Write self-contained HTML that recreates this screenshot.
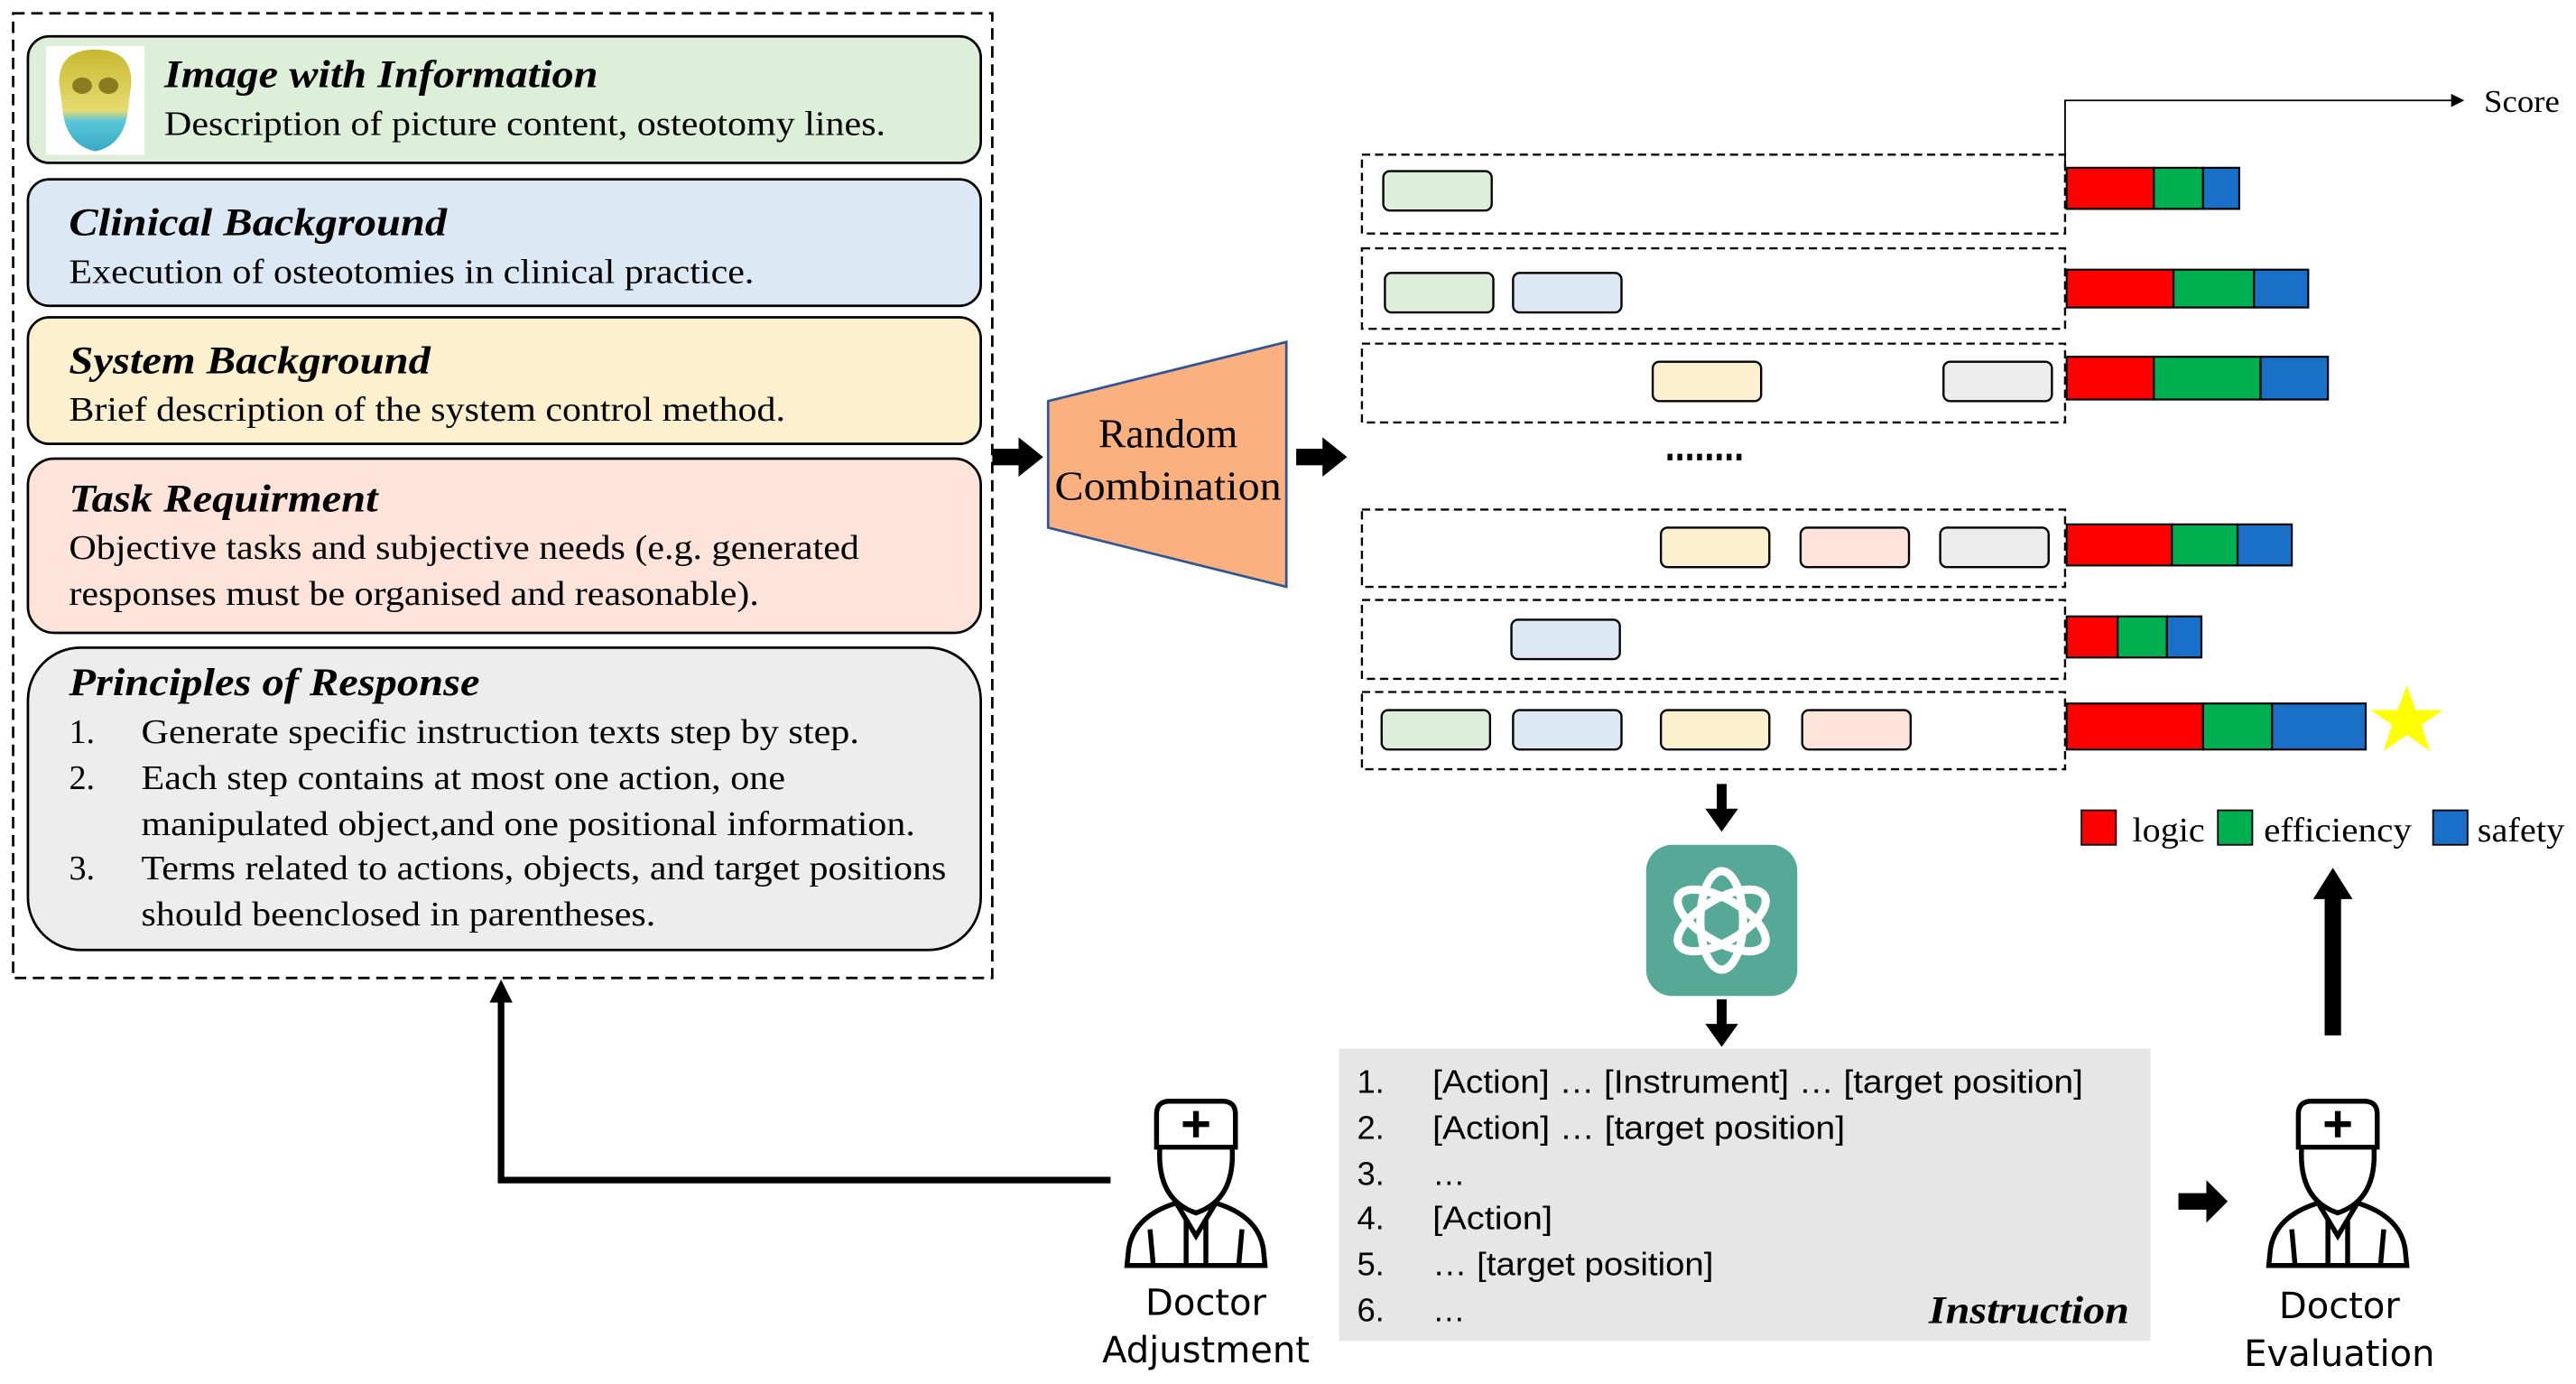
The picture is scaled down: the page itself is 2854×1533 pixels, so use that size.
<!DOCTYPE html>
<html><head><meta charset="utf-8"><style>html,body{margin:0;padding:0;background:#fff}svg{display:block}</style></head><body>
<svg width="2854" height="1533" viewBox="0 0 1568 842" xmlns="http://www.w3.org/2000/svg">
<defs>
<marker id="ah" markerWidth="8" markerHeight="8" refX="7" refY="4" orient="auto" markerUnits="userSpaceOnUse"><path d="M0,0 L8,4 L0,8z" fill="#000"/></marker>
<linearGradient id="sk" x1="0" y1="0" x2="0" y2="1"><stop offset="0" stop-color="#c8b830"/><stop offset="0.6" stop-color="#e6dc70"/><stop offset="0.7" stop-color="#5ac8d8"/><stop offset="1" stop-color="#3aa8c8"/></linearGradient>
</defs>
<g font-family="Liberation Serif, serif">
<rect x="8" y="8" width="596" height="587" fill="none" stroke="#000" stroke-width="1.5" stroke-dasharray="7,4"/>
<rect x="17" y="22" width="580" height="77" rx="13" fill="#deefd9" stroke="#000" stroke-width="1.5"/>
<rect x="28" y="28" width="60" height="66" fill="#fff"/>
<path d="M36,50 Q36,30 58,30 Q80,30 80,50 L78,66 Q76,88 58,92 Q40,88 38,66Z" fill="url(#sk)"/>
<ellipse cx="50" cy="52" rx="6" ry="5" fill="#8a7a20"/><ellipse cx="66" cy="52" rx="6" ry="5" fill="#8a7a20"/>
<text x="100" y="53" font-size="24" font-weight="bold" font-style="italic" textLength="264" lengthAdjust="spacingAndGlyphs">Image with Information</text>
<text x="100" y="82" font-size="21" textLength="439" lengthAdjust="spacingAndGlyphs">Description of picture content, osteotomy lines.</text>
<rect x="17" y="109" width="580" height="77" rx="13" fill="#dce9f5" stroke="#000" stroke-width="1.5"/>
<text x="42" y="143" font-size="24" font-weight="bold" font-style="italic" textLength="230" lengthAdjust="spacingAndGlyphs">Clinical Background</text>
<text x="42" y="172" font-size="21" textLength="417" lengthAdjust="spacingAndGlyphs">Execution of osteotomies in clinical practice.</text>
<rect x="17" y="193" width="580" height="77" rx="13" fill="#fdf0cf" stroke="#000" stroke-width="1.5"/>
<text x="42" y="227" font-size="24" font-weight="bold" font-style="italic" textLength="220" lengthAdjust="spacingAndGlyphs">System Background</text>
<text x="42" y="256" font-size="21" textLength="436" lengthAdjust="spacingAndGlyphs">Brief description of the system control method.</text>
<rect x="17" y="279" width="580" height="106" rx="16" fill="#fde3d9" stroke="#000" stroke-width="1.5"/>
<text x="42" y="311" font-size="24" font-weight="bold" font-style="italic" textLength="188" lengthAdjust="spacingAndGlyphs">Task Requirment</text>
<text x="42" y="340" font-size="21" textLength="481" lengthAdjust="spacingAndGlyphs">Objective tasks and subjective needs (e.g. generated</text>
<text x="42" y="368" font-size="21" textLength="420" lengthAdjust="spacingAndGlyphs">responses must be organised and reasonable).</text>
<rect x="17" y="394" width="580" height="184" rx="32" fill="#ededed" stroke="#000" stroke-width="1.5"/>
<text x="42" y="423" font-size="24" font-weight="bold" font-style="italic" textLength="250" lengthAdjust="spacingAndGlyphs">Principles of Response</text>
<g font-size="21">
<text x="42" y="452">1.</text><text x="86" y="452" textLength="437" lengthAdjust="spacingAndGlyphs">Generate specific instruction texts step by step.</text>
<text x="42" y="480">2.</text><text x="86" y="480" textLength="392" lengthAdjust="spacingAndGlyphs">Each step contains at most one action, one</text>
<text x="86" y="508" textLength="471" lengthAdjust="spacingAndGlyphs">manipulated object,and one positional information.</text>
<text x="42" y="535">3.</text><text x="86" y="535" textLength="490" lengthAdjust="spacingAndGlyphs">Terms related to actions, objects, and target positions</text>
<text x="86" y="563" textLength="313" lengthAdjust="spacingAndGlyphs">should beenclosed in parentheses.</text>
</g>
<path d="M604,273 L620,273 L620,266 L635,278 L620,290 L620,283 L604,283Z" fill="#000"/>
<path d="M789,273 L805,273 L805,266 L820,278 L805,290 L805,283 L789,283Z" fill="#000"/>
<path d="M638,244 L783,208 L783,357 L638,321Z" fill="#fbb07f" stroke="#2f5597" stroke-width="1.5"/>
<text x="711" y="272" font-size="25" text-anchor="middle">Random</text>
<text x="642" y="304" font-size="25" textLength="138" lengthAdjust="spacingAndGlyphs">Combination</text>
<g fill="none" stroke="#000" stroke-width="1.3" stroke-dasharray="5,3">
<rect x="829" y="94" width="428" height="48"/><rect x="829" y="151" width="428" height="49"/>
<rect x="829" y="209" width="428" height="48"/><rect x="829" y="310" width="428" height="47"/>
<rect x="829" y="365" width="428" height="48"/><rect x="829" y="421" width="428" height="47"/>
</g>
<g stroke="#000" stroke-width="1.3">
<rect x="842" y="104" width="66" height="24" rx="4" fill="#deefd9"/>
<rect x="843" y="166" width="66" height="24" rx="4" fill="#deefd9"/><rect x="921" y="166" width="66" height="24" rx="4" fill="#dce9f5"/>
<rect x="1006" y="220" width="66" height="24" rx="4" fill="#fdf0cf"/><rect x="1183" y="220" width="66" height="24" rx="4" fill="#ececec"/>
<rect x="1011" y="321" width="66" height="24" rx="4" fill="#fdf0cf"/><rect x="1096" y="321" width="66" height="24" rx="4" fill="#fde3d9"/><rect x="1181" y="321" width="66" height="24" rx="4" fill="#ececec"/>
<rect x="920" y="377" width="66" height="24" rx="4" fill="#dce9f5"/>
<rect x="841" y="432" width="66" height="24" rx="4" fill="#deefd9"/><rect x="921" y="432" width="66" height="24" rx="4" fill="#dce9f5"/><rect x="1011" y="432" width="66" height="24" rx="4" fill="#fdf0cf"/><rect x="1097" y="432" width="66" height="24" rx="4" fill="#fde3d9"/>
</g>
<line x1="1015" y1="278" x2="1062" y2="278" stroke="#000" stroke-width="4" stroke-dasharray="3,3"/>
<g stroke="#000" stroke-width="1.2">
<rect x="1258" y="102" width="53" height="25" fill="#f00"/><rect x="1311" y="102" width="30" height="25" fill="#00b050"/><rect x="1341" y="102" width="22" height="25" fill="#1a6fc9"/>
<rect x="1258" y="164" width="65" height="23" fill="#f00"/><rect x="1323" y="164" width="49" height="23" fill="#00b050"/><rect x="1372" y="164" width="33" height="23" fill="#1a6fc9"/>
<rect x="1258" y="217" width="53" height="26" fill="#f00"/><rect x="1311" y="217" width="65" height="26" fill="#00b050"/><rect x="1376" y="217" width="41" height="26" fill="#1a6fc9"/>
<rect x="1258" y="319" width="64" height="25" fill="#f00"/><rect x="1322" y="319" width="40" height="25" fill="#00b050"/><rect x="1362" y="319" width="33" height="25" fill="#1a6fc9"/>
<rect x="1258" y="375" width="31" height="25" fill="#f00"/><rect x="1289" y="375" width="30" height="25" fill="#00b050"/><rect x="1319" y="375" width="21" height="25" fill="#1a6fc9"/>
<rect x="1258" y="428" width="83" height="28" fill="#f00"/><rect x="1341" y="428" width="42" height="28" fill="#00b050"/><rect x="1383" y="428" width="57" height="28" fill="#1a6fc9"/>
</g>
<polygon points="1465,417 1470.5,432 1487,432 1474,441 1479,457 1465,447 1451,457 1456,441 1443,432 1459.5,432" fill="#ff0"/>
<polyline points="1257,104 1257,61 1499,61" fill="none" stroke="#000" stroke-width="1" marker-end="url(#ah)"/>
<text x="1512" y="68" font-size="19" textLength="46" lengthAdjust="spacingAndGlyphs">Score</text>
<rect x="1267" y="493" width="21" height="21" fill="#f00" stroke="#000"/><text x="1298" y="512" font-size="21" textLength="44" lengthAdjust="spacingAndGlyphs">logic</text>
<rect x="1350" y="493" width="21" height="21" fill="#00b050" stroke="#000"/><text x="1378" y="512" font-size="21" textLength="90" lengthAdjust="spacingAndGlyphs">efficiency</text>
<rect x="1481" y="493" width="21" height="21" fill="#1a6fc9" stroke="#000"/><text x="1508" y="512" font-size="21" textLength="53" lengthAdjust="spacingAndGlyphs">safety</text>
<path d="M1045,477 L1051,477 L1051,492 L1058,492 L1048,506 L1038,492 L1045,492Z" fill="#000"/>
<path d="M1045,608 L1051,608 L1051,623 L1058,623 L1048,637 L1038,623 L1045,623Z" fill="#000"/>
<path d="M1415,630 L1425,630 L1425,547 L1432,547 L1420,528 L1408,547 L1415,547Z" fill="#000"/>
<path d="M1326,726 L1343,726 L1343,718 L1356,731 L1343,744 L1343,736 L1326,736Z" fill="#000"/>
<rect x="1002" y="514" width="92" height="92" rx="16" fill="#55a996"/>
<g fill="none" stroke="#fff" stroke-width="5">
<ellipse cx="1048" cy="560" rx="13" ry="30"/>
<ellipse cx="1048" cy="560" rx="13" ry="30" transform="rotate(60 1048 560)"/>
<ellipse cx="1048" cy="560" rx="13" ry="30" transform="rotate(-60 1048 560)"/>
</g>
<rect x="815" y="638" width="494" height="178" fill="#e6e6e6"/>
<g font-family="Liberation Sans Narrow, Liberation Sans, sans-serif" font-size="20">
<text x="826" y="665">1.</text><text x="872" y="665" textLength="396" lengthAdjust="spacingAndGlyphs">[Action] … [Instrument] … [target position]</text>
<text x="826" y="693">2.</text><text x="872" y="693" textLength="251" lengthAdjust="spacingAndGlyphs">[Action] … [target position]</text>
<text x="826" y="721">3.</text><text x="872" y="721">…</text>
<text x="826" y="748">4.</text><text x="872" y="748" textLength="73" lengthAdjust="spacingAndGlyphs">[Action]</text>
<text x="826" y="776">5.</text><text x="872" y="776" textLength="171" lengthAdjust="spacingAndGlyphs">… [target position]</text>
<text x="826" y="804">6.</text><text x="872" y="804">…</text>
</g>
<text x="1174" y="805" font-size="24" font-weight="bold" font-style="italic" textLength="122" lengthAdjust="spacingAndGlyphs">Instruction</text>
<polyline points="676,718 305,718 305,602" fill="none" stroke="#000" stroke-width="4"/>
<path d="M298,610 L305,596 L312,610Z" fill="#000"/>
<g id="doc" fill="none" stroke="#000" stroke-width="3">
<path d="M704,698 L704,678 Q704,670 712,670 L744,670 Q752,670 752,678 L752,698Z" fill="#fff"/>
<path d="M728,676 L728,692 M720,684 L736,684" stroke-width="3.5"/>
<path d="M706,698 Q704,730 728,738 Q752,730 750,698"/>
<path d="M716,732 Q690,740 687,760 L686,770 L770,770 L769,760 Q766,740 740,732"/>
<path d="M716,732 L728,752 L740,732 M722,742 L722,770 M734,742 L734,770 M700,748 L702,770 M756,748 L754,770"/>
</g>
<use href="#doc" x="695" y="0"/>
<g font-family="DejaVu Sans, sans-serif" font-size="22" text-anchor="middle">
<text x="734" y="800">Doctor</text><text x="734" y="829">Adjustment</text>
<text x="1424" y="802">Doctor</text><text x="1424" y="831">Evaluation</text>
</g>
</g>
</svg>
</body></html>
